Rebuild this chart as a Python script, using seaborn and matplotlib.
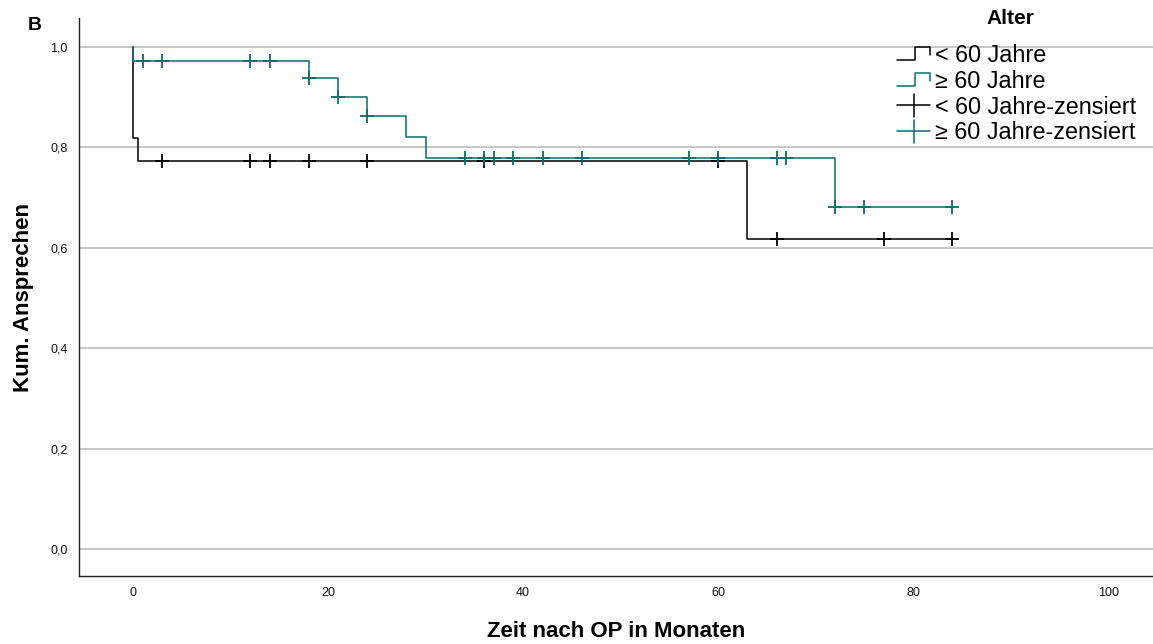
import numpy as np
import pandas as pd
import matplotlib
matplotlib.use("Agg")
import matplotlib.pyplot as plt
from matplotlib.lines import Line2D
from matplotlib.legend_handler import HandlerBase
import seaborn as sns

# Kaplan-Meier estimates per age group
groups = ["< 60 Jahre", "≥ 60 Jahre"]
young_event_times = [0, 0.5, 63]
young_surv = [0.818, 0.773, 0.618]
young_censor_times = [3, 12, 14, 18, 24, 36, 60, 66, 77, 84]

old_event_times = [0, 18, 21, 24, 28, 30, 72]
old_surv = [0.973, 0.939, 0.901, 0.862, 0.821, 0.780, 0.682]
old_censor_times = [1, 3, 12, 14, 18, 21, 24, 34, 36, 37, 39, 42, 46, 57, 60,
                    66, 67, 72, 75, 84]

x_ticks = [0, 20, 40, 60, 80, 100]
y_ticks = [0.0, 0.2, 0.4, 0.6, 0.8, 1.0]

colors = {"< 60 Jahre": "#000000", "≥ 60 Jahre": "#0f6a6a"}


def step_frame(times, surv, end):
    x = [0.0] + list(times) + [end]
    y = [1.0] + list(surv) + [surv[-1]]
    return pd.DataFrame({"t": x, "s": y})


def surv_at(times, surv, t):
    idx = np.searchsorted(np.asarray(times), t, side="right") - 1
    return 1.0 if idx < 0 else surv[idx]


sns.set_theme(style="white")
plt.rcParams["font.family"] = ["Liberation Sans", "DejaVu Sans"]
plt.rcParams["text.color"] = "black"
plt.rcParams["axes.labelcolor"] = "black"

fig = plt.figure(figsize=(11.53, 6.44), dpi=100)
ax = fig.add_axes([79 / 1153, 1 - 576 / 644, 1 - 79 / 1153, (576 - 18) / 644])

data = {
    "< 60 Jahre": (young_event_times, young_surv, young_censor_times),
    "≥ 60 Jahre": (old_event_times, old_surv, old_censor_times),
}

for g in groups:
    times, surv, cens = data[g]
    df = step_frame(times, surv, max(cens))
    sns.lineplot(data=df, x="t", y="s", estimator=None, sort=False,
                 drawstyle="steps-post", color=colors[g], linewidth=1.1,
                 ax=ax, zorder=3)
    cdf = pd.DataFrame({"t": cens, "s": [surv_at(times, surv, c) for c in cens]})
    sns.scatterplot(data=cdf, x="t", y="s", marker="+", s=110,
                    color=colors[g], linewidth=1.3, ax=ax, zorder=4)

ax.set_xlim(-5.54, 104.6)
ax.set_ylim(-0.054, 1.058)
ax.set_xticks(x_ticks)
ax.set_yticks(y_ticks)
ax.set_xticklabels([str(v) for v in x_ticks], fontsize=9)
ax.set_yticklabels([f"{v:.1f}".replace(".", ",") for v in y_ticks], fontsize=9)
ax.tick_params(axis="both", length=0, pad=8, colors="#111111")
ax.yaxis.grid(True, color="#bdbdbd", linewidth=1.2)
ax.xaxis.grid(False)
for side in ["top", "right"]:
    ax.spines[side].set_visible(False)
for side in ["left", "bottom"]:
    ax.spines[side].set_color("#222222")
    ax.spines[side].set_linewidth(1.0)

ax.set_xlabel("Zeit nach OP in Monaten", fontsize=16, fontweight="bold", labelpad=16)
ax.set_ylabel("Kum. Ansprechen", fontsize=16, fontweight="bold", labelpad=12)

fig.text(35 / 1153, 1 - 25 / 644, "B", fontsize=14, fontweight="bold",
         ha="center", va="center")


class StepHandler(HandlerBase):
    def create_artists(self, legend, orig_handle, xdescent, ydescent, width,
                       height, fontsize, trans):
        x0 = -xdescent
        y0 = -ydescent
        xs = [x0, x0 + width * 0.55, x0 + width * 0.55, x0 + width, x0 + width]
        ys = [y0 + height * 0.1, y0 + height * 0.1, y0 + height * 0.9,
              y0 + height * 0.9, y0 + height * 0.4]
        ln = Line2D(xs, ys, color=orig_handle.get_color(), linewidth=1.1,
                    transform=trans)
        return [ln]


class CensorHandler(HandlerBase):
    def create_artists(self, legend, orig_handle, xdescent, ydescent, width,
                       height, fontsize, trans):
        x0 = -xdescent
        y0 = -ydescent
        ym = y0 + height * 0.5
        xm = x0 + width * 0.5
        h = Line2D([x0, x0 + width], [ym, ym], color=orig_handle.get_color(),
                   linewidth=1.1, transform=trans)
        v = Line2D([xm, xm], [ym - height * 0.7, ym + height * 0.7],
                   color=orig_handle.get_color(), linewidth=1.1, transform=trans)
        return [h, v]


class StepProxy(Line2D):
    pass


class CensorProxy(Line2D):
    pass


handles = [StepProxy([], [], color=colors[g]) for g in groups] + \
          [CensorProxy([], [], color=colors[g]) for g in groups]
labels = groups + [f"{g}-zensiert" for g in groups]

fig.legend(handles, labels, handler_map={StepProxy: StepHandler(),
                                         CensorProxy: CensorHandler()},
           loc="upper left", bbox_to_anchor=(897 / 1153, 1 - 44 / 644),
           frameon=False, fontsize=16.8, borderpad=0, borderaxespad=0,
           handlelength=1.42, handletextpad=0.2, labelspacing=0.12)
fig.text(1010 / 1153, 1 - 18 / 644, "Alter", fontsize=15, fontweight="bold",
         ha="center", va="center")

fig.savefig("out.png", dpi=100)
